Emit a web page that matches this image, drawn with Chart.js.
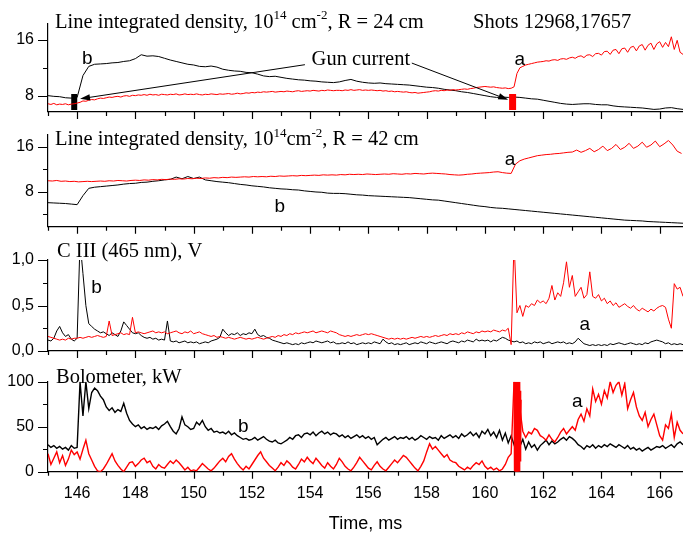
<!DOCTYPE html>
<html>
<head>
<meta charset="utf-8">
<script src="https://cdn.jsdelivr.net/npm/chart.js@4.4.1/dist/chart.umd.min.js"></script>
<style>
html, body { margin: 0; padding: 0; background: #fff; }
#wrap { position: relative; width: 683px; height: 538px; }
#wrap canvas { position: absolute; left: 0; top: 0; }
</style>
</head>
<body>
<div id="wrap">
  <canvas id="p1" width="683" height="538"></canvas>
  <canvas id="p2" width="683" height="538"></canvas>
  <canvas id="p3" width="683" height="538"></canvas>
  <canvas id="p4" width="683" height="538"></canvas>
</div>
<script>
// time axis, ms
const xMin = 145, xMax = 166.8;
const xMajor = [146, 148, 150, 152, 154, 156, 158, 160, 162, 164, 166];
const xTickLabels = ['146', '148', '150', '152', '154', '156', '158', '160', '162', '164', '166'];
const xMinor = [145, 147, 149, 151, 153, 155, 157, 159, 161, 163, 165];

// panel 1: line integrated density, R = 24 cm  (shot a = red, shot b = black)
const p1bStep = 0.2;
const p1b = [8.05, 7.95, 7.9, 7.75, 7.7, 7.8, 10.9, 12.2, 12.5, 12.55,
  12.6, 12.7, 12.75, 12.9, 13.0, 13.3, 13.85, 13.65, 13.7, 13.6,
  13.35, 13.1, 12.9, 12.7, 12.5, 12.4, 12.2, 12.15, 12.25, 12.1,
  11.8, 11.65, 11.55, 11.5, 11.35, 11.3, 11.1, 10.85, 10.75, 10.8,
  10.65, 10.5, 10.4, 10.3, 10.25, 10.15, 10.1, 10.0, 9.95, 9.9,
  10.0, 10.2, 10.35, 10.1, 9.95, 9.85, 9.8, 9.85, 9.75, 9.7,
  9.65, 9.6, 9.55, 9.45, 9.35, 9.25, 9.2, 9.1, 8.95, 8.85,
  8.75, 8.6, 8.5, 8.35, 8.2, 8.05, 7.9, 7.8, 7.85, 7.8,
  7.85, 7.8, 7.7, 7.6, 7.55, 7.4, 7.25, 7.1, 6.95, 6.85,
  6.8, 6.85, 6.9, 6.9, 6.8, 6.75, 6.75, 6.6, 6.5, 6.45,
  6.4, 6.35, 6.3, 6.2, 6.1, 6.15, 6.3, 6.35, 6.2, 6.1];
const p1aStep = 0.1;
const p1a = [6.9, 6.8, 6.95, 6.75, 6.85, 6.8, 6.9, 6.75, 6.85, 6.9,
  7.0, 7.1, 7.3, 7.25, 7.4, 7.5, 7.45, 7.6, 7.7, 7.65,
  7.75, 7.85, 7.8, 7.9, 7.95, 7.85, 8.0, 8.05, 7.95, 8.1,
  8.05, 8.15, 8.1, 8.2, 8.1, 8.25, 8.15, 8.2, 8.1, 8.25,
  8.2, 8.15, 8.25, 8.2, 8.3, 8.15, 8.2, 8.3, 8.2, 8.25,
  8.2, 8.3, 8.2, 8.15, 8.25, 8.2, 8.3, 8.25, 8.2, 8.3,
  8.25, 8.3, 8.35, 8.25, 8.3, 8.4, 8.3, 8.35, 8.45, 8.4,
  8.5, 8.45, 8.55, 8.5, 8.6, 8.55, 8.6, 8.65, 8.55, 8.6,
  8.65, 8.6, 8.7, 8.65, 8.6, 8.7, 8.75, 8.65, 8.7, 8.75,
  8.7, 8.8, 8.75, 8.7, 8.8, 8.75, 8.85, 8.8, 8.75, 8.8,
  8.8, 8.75, 8.85, 8.8, 8.9, 8.8, 8.85, 8.9, 8.8, 8.85,
  8.8, 8.85, 8.8, 8.75, 8.8, 8.7, 8.75, 8.65, 8.7, 8.6,
  8.65, 8.6, 8.55, 8.6, 8.5, 8.45, 8.5, 8.4, 8.45, 8.5,
  8.55, 8.6, 8.7, 8.75, 8.7, 8.8, 8.75, 8.85, 8.8, 8.9,
  8.85, 8.9, 8.95, 9.0, 8.95, 9.05, 9.1, 9.2, 9.25, 9.3,
  9.35, 9.3, 9.25, 9.3, 9.2, 9.15, 9.1, 9.15, 9.05, 9.1,
  9.3, 11.2, 12.0, 12.2, 12.4, 12.5, 12.6, 12.7, 12.8, 12.85,
  12.9, 13.0, 12.95, 13.1, 13.15, 13.05, 13.25, 13.3, 13.2, 13.4,
  13.5, 13.35, 13.6, 13.7, 13.45, 13.8, 13.85, 13.6, 14.0, 14.05,
  13.8, 14.3, 14.35, 13.9, 14.5, 14.6, 14.0, 14.7, 14.8, 14.2,
  14.9, 15.05, 14.4, 15.1, 15.3, 14.5, 15.2, 15.5, 14.6, 15.4,
  15.7, 14.9, 15.6, 15.0, 16.4, 14.6, 15.9, 14.2, 13.9];
// gun current markers (time, level span)
const gunB = { t: 145.9, lo: 6.0, hi: 8.3 };
const gunA = { t: 160.95, lo: 6.0, hi: 8.3 };

// panel 2: line integrated density, R = 42 cm
const p2bStep = 0.2;
const p2b = [6.05, 6.0, 5.95, 5.9, 5.8, 5.7, 7.3, 8.6, 8.8, 8.9,
  9.0, 9.1, 9.2, 9.35, 9.45, 9.5, 9.65, 9.7, 9.85, 9.95,
  10.1, 10.2, 10.6, 10.3, 10.7, 10.35, 10.6, 10.1, 9.95, 9.8,
  9.7, 9.6, 9.45, 9.3, 9.2, 9.05, 8.95, 8.85, 8.7, 8.6,
  8.5, 8.45, 8.35, 8.3, 8.15, 8.05, 7.95, 7.9, 7.75, 7.7,
  7.7, 7.65, 7.55, 7.45, 7.4, 7.3, 7.25, 7.2, 7.15, 7.1,
  7.05, 7.0, 6.95, 6.85, 6.75, 6.65, 6.55, 6.5, 6.35, 6.2,
  6.05, 5.9, 5.75, 5.6, 5.45, 5.35, 5.2, 5.1, 5.05, 4.95,
  4.85, 4.75, 4.65, 4.55, 4.45, 4.35, 4.25, 4.15, 4.05, 3.95,
  3.85, 3.75, 3.65, 3.55, 3.45, 3.35, 3.25, 3.15, 3.05, 2.95,
  2.9, 2.85, 2.8, 2.7, 2.65, 2.6, 2.55, 2.5, 2.45, 2.4];
const p2aStep = 0.15;
const p2a = [9.95, 9.9, 10.0, 9.85, 9.9, 9.8, 9.85, 9.75, 9.8, 9.85,
  9.8, 9.85, 9.9, 9.85, 9.95, 9.9, 10.0, 9.95, 9.9, 10.0,
  10.05, 10.0, 10.1, 10.05, 10.15, 10.1, 10.2, 10.15, 10.25, 10.2,
  10.3, 10.25, 10.35, 10.3, 10.4, 10.35, 10.45, 10.4, 10.5, 10.45,
  10.55, 10.5, 10.6, 10.55, 10.6, 10.65, 10.6, 10.7, 10.65, 10.7,
  10.65, 10.75, 10.7, 10.8, 10.75, 10.8, 10.85, 10.8, 10.9, 10.85,
  10.9, 10.95, 10.9, 11.0, 10.95, 11.0, 10.95, 11.05, 11.0, 11.1,
  11.05, 11.1, 11.05, 11.15, 11.1, 11.05, 11.1, 11.15, 11.1, 11.2,
  11.15, 11.1, 11.2, 11.15, 11.25, 11.2, 11.15, 11.25, 11.3, 11.25,
  11.2, 11.15, 11.05, 11.0, 10.95, 11.0, 11.1, 11.15, 11.25, 11.3,
  11.35, 11.4, 11.5, 11.55, 11.4, 11.3, 11.25, 12.9, 13.5, 13.8,
  14.0, 14.2, 14.4, 14.5, 14.6, 14.65, 14.75, 14.8, 14.9, 15.0,
  15.05, 15.4, 15.0, 15.3, 15.7, 15.1, 15.5, 16.1, 15.3, 15.7,
  16.4, 15.5, 15.9, 16.6, 15.7, 16.1, 16.8, 15.9, 16.3, 17.0,
  16.0, 16.5, 17.1, 16.3, 15.2, 14.8];

// panel 3: C III (465 nm), V
const p3Step = 0.1;
const p3b = [0.12, 0.11, 0.14, 0.22, 0.27, 0.2, 0.16, 0.18, 0.13, 0.11,
  0.14, 1.2, 0.85, 0.5, 0.3, 0.27, 0.24, 0.22, 0.2, 0.21,
  0.19, 0.17, 0.2, 0.18, 0.16, 0.22, 0.32, 0.28, 0.24, 0.2,
  0.19, 0.2, 0.17, 0.15, 0.14, 0.15, 0.13, 0.14, 0.12, 0.13,
  0.12, 0.33, 0.11, 0.1, 0.11, 0.09, 0.1, 0.11, 0.09, 0.1,
  0.09, 0.1, 0.08, 0.09, 0.1, 0.09, 0.11, 0.12, 0.13, 0.15,
  0.24, 0.2, 0.17, 0.19, 0.18, 0.2, 0.17, 0.19, 0.18, 0.2,
  0.19, 0.24, 0.18, 0.16, 0.17, 0.15, 0.14, 0.12, 0.11, 0.1,
  0.09, 0.08, 0.09, 0.08, 0.07, 0.08, 0.07, 0.09, 0.08, 0.09,
  0.1, 0.09, 0.11, 0.1, 0.09, 0.1, 0.11, 0.09, 0.1, 0.08,
  0.08, 0.09, 0.08, 0.1, 0.08, 0.09, 0.07, 0.08, 0.09, 0.08,
  0.09, 0.08, 0.1, 0.09, 0.08, 0.13, 0.1, 0.08, 0.09, 0.07,
  0.08, 0.07, 0.08, 0.09, 0.07, 0.08, 0.09, 0.08, 0.1, 0.09,
  0.08, 0.1, 0.09, 0.08, 0.09, 0.1, 0.09, 0.08, 0.1, 0.11,
  0.1, 0.09, 0.11, 0.1, 0.12, 0.11, 0.1, 0.13, 0.11, 0.12,
  0.11, 0.12, 0.1, 0.12, 0.11, 0.13, 0.15, 0.14, 0.12, 0.11,
  0.1, 0.11, 0.09, 0.1, 0.08, 0.09, 0.08, 0.1, 0.09, 0.1,
  0.08, 0.09, 0.1, 0.08, 0.09, 0.1, 0.09, 0.1, 0.08, 0.09,
  0.08, 0.1, 0.14, 0.11, 0.08, 0.07, 0.06, 0.07, 0.06, 0.07,
  0.06, 0.07, 0.06, 0.08, 0.07, 0.08, 0.09, 0.08, 0.07, 0.08,
  0.09, 0.08, 0.07, 0.08, 0.07, 0.09, 0.08, 0.1, 0.11, 0.12,
  0.11, 0.1, 0.08, 0.09, 0.07, 0.08, 0.07, 0.08, 0.07];
const p3a = [0.16, 0.15, 0.14, 0.13, 0.12, 0.13, 0.12, 0.14, 0.13, 0.14,
  0.14, 0.15, 0.14, 0.15, 0.16, 0.15, 0.16, 0.17, 0.16, 0.15,
  0.16, 0.33, 0.17, 0.18, 0.19, 0.2, 0.18, 0.19, 0.18, 0.37,
  0.2, 0.21, 0.2, 0.19, 0.2, 0.21, 0.22, 0.2, 0.21, 0.2,
  0.21, 0.19, 0.2, 0.21, 0.22, 0.2, 0.19, 0.21, 0.2, 0.22,
  0.19, 0.2, 0.21, 0.19, 0.18, 0.17, 0.16, 0.17, 0.15, 0.16,
  0.15, 0.14, 0.15, 0.14, 0.13, 0.14, 0.15, 0.14, 0.13, 0.14,
  0.13, 0.14, 0.15, 0.14, 0.13, 0.14, 0.15, 0.16, 0.15, 0.17,
  0.16, 0.18, 0.17, 0.19, 0.18, 0.2, 0.19, 0.2, 0.21, 0.2,
  0.21, 0.22, 0.2, 0.21, 0.22, 0.21, 0.2, 0.22, 0.21, 0.2,
  0.18, 0.17, 0.16, 0.17, 0.16, 0.17, 0.18, 0.17, 0.18, 0.19,
  0.18, 0.19, 0.18, 0.17, 0.16, 0.15, 0.14, 0.13, 0.14, 0.13,
  0.14, 0.13, 0.14, 0.13, 0.14, 0.15, 0.14, 0.15, 0.16, 0.15,
  0.16, 0.15, 0.16, 0.17, 0.16, 0.17, 0.18, 0.17, 0.19, 0.18,
  0.19, 0.18, 0.2, 0.19, 0.21, 0.2, 0.19, 0.21, 0.2, 0.22,
  0.21, 0.22, 0.21, 0.23, 0.22, 0.21, 0.23, 0.22, 0.25, 0.07,
  1.2, 0.42, 0.5, 0.38, 0.5, 0.48, 0.52, 0.5, 0.56, 0.53,
  0.55, 0.52, 0.58, 0.72, 0.56, 0.64, 0.6, 0.75, 0.98, 0.7,
  0.83, 0.6, 0.65, 0.7, 0.58, 0.62, 0.87, 0.6, 0.58, 0.62,
  0.55, 0.58, 0.52, 0.55, 0.5, 0.53, 0.48, 0.5, 0.52, 0.49,
  0.47, 0.5, 0.46, 0.44, 0.47, 0.45, 0.43, 0.46, 0.44, 0.47,
  0.49, 0.5, 0.48, 0.35, 0.25, 0.74, 0.68, 0.7, 0.6];

// panel 4: bolometer, kW
const p4Step = 0.1;
const p4b = [30, 27, 29, 26, 28, 25, 27, 24, 29, 26,
  27, 100, 62, 100, 70, 88, 93, 90, 84, 80,
  72, 68, 71, 66, 69, 67, 76, 65, 57, 53,
  50, 52, 48, 50, 47, 49, 48, 50, 47, 51,
  53, 56, 50, 45, 42, 48, 61, 52, 50, 47,
  48, 55, 52, 57, 50, 46, 48, 44, 45, 43,
  44, 42, 45, 41, 43, 40, 38, 36, 37, 35,
  36, 38, 35, 37, 39, 36, 34, 33, 35, 32,
  31, 33, 35, 38, 36, 40, 41, 38, 42, 43,
  41, 44, 40, 43, 45, 42, 44, 41, 43, 42,
  39, 41, 38, 40, 37, 39, 41, 38, 40, 37,
  39, 36, 38, 30, 33, 36, 38, 35, 37, 39,
  36, 38, 37, 39, 36, 38, 35, 37, 40, 38,
  36, 39, 37, 38, 35, 40, 37, 39, 41, 38,
  40, 37, 42, 39, 41, 44, 40, 43, 38, 45,
  42, 47, 40, 44, 38, 46, 35, 43, 32, 40,
  30, 38, 28, 36, 25, 33, 27, 30, 24, 29,
  32, 35, 30, 34, 31, 33, 36, 38, 35, 39,
  37, 34, 30, 28, 25, 29, 27, 30, 26, 29,
  27, 30, 28, 31, 29, 27, 30, 28, 26, 29,
  25, 27, 24, 26, 23, 25, 27, 24, 26, 28,
  27, 29, 26, 28, 30, 27, 31, 33, 30];
const p4a = [20, 8, 15, 22, 10, 18, 7, 14, 24, 19,
  22, 14, 25, 35, 20, 13, 6, 1, 0, 3,
  8, 14, 20, 12, 7, 3, 0, 5, 10, 11,
  6, 9, 13, 15, 10, 12, 6, 3, 8, 5,
  4, 8, 12, 9, 13, 10, 6, 2, 5, 1,
  2, 1, 5, 9, 6, 3, 1, 4, 8, 12,
  15, 11, 17, 20, 14, 9, 5, 2, 6, 3,
  8, 13, 18, 22, 15, 11, 7, 4, 1, 5,
  10, 7, 12, 9, 5, 3, 8, 14, 11, 16,
  12, 9, 15, 11, 7, 4, 10, 6, 3, 8,
  15, 11, 6, 3, 1, 5, 10, 16, 12, 8,
  4, 2, 7, 11, 6, 3, 1, 5, 9, 13,
  10, 14, 18, 16, 12, 8, 4, 1, 6, 12,
  22, 31, 25, 28, 24, 20, 16, 19, 13, 11,
  10, 6, 4, 2, 5, 3, 7, 10, 8, 12,
  6, 3, 5, 2, 4, 1, 3, 8, 16, 20,
  100, 0, 70, 45, 38, 44, 42, 48, 46, 40,
  38, 35, 41, 36, 33, 38, 44, 48, 42, 46,
  50, 46, 58, 64, 56, 70, 62, 92, 78, 86,
  75, 90, 82, 100, 88, 96, 100, 85, 98, 70,
  80, 88, 72, 62, 57, 66, 50, 58, 64, 52,
  40, 35, 52, 48, 64, 38, 55, 46, 42];
// fast burst on the red bolometer trace during the gun pulse
const p4aBurstStart = 161.0, p4aBurstStep = 0.011;
const p4aBurst = [100, 0, 100, 3, 100, 0, 98, 2, 100, 0, 100, 5, 100, 0, 100, 8, 95, 0, 100, 12, 90, 25, 80];

const RED = '#ff0000', BLACK = '#000000';
const SANS = "'Liberation Sans', Arial, sans-serif";
const SERIF = "'Liberation Serif', 'Times New Roman', serif";
const SERIF_SIZE = 20.5;

function pts(t0, dt, vals) {
  return vals.map((v, i) => ({ x: +(t0 + i * dt).toFixed(3), y: v }));
}
function trace(data, color, width) {
  return { data: data, borderColor: color, borderWidth: width || 1, pointRadius: 0, tension: 0, fill: false, borderCapStyle: 'butt' };
}

function drawRich(ctx, x, y, parts, size, family) {
  let cx = x;
  ctx.textAlign = 'left';
  ctx.textBaseline = 'alphabetic';
  for (const p of parts) {
    const sup = typeof p !== 'string';
    const s = sup ? p.sup : p;
    ctx.font = (sup ? Math.round(size * 0.62) : size) + 'px ' + family;
    ctx.fillText(s, cx, sup ? y - size * 0.4 : y);
    cx += ctx.measureText(s).width;
  }
}

function arrowLine(ctx, x1, y1, x2, y2) {
  const a = Math.atan2(y2 - y1, x2 - x1), L = 10, W = 3.2;
  ctx.beginPath();
  ctx.moveTo(x1, y1);
  ctx.lineTo(x2 - Math.cos(a) * L * 0.8, y2 - Math.sin(a) * L * 0.8);
  ctx.stroke();
  ctx.beginPath();
  ctx.moveTo(x2, y2);
  ctx.lineTo(x2 - Math.cos(a) * L - Math.sin(a) * W, y2 - Math.sin(a) * L + Math.cos(a) * W);
  ctx.lineTo(x2 - Math.cos(a) * L + Math.sin(a) * W, y2 - Math.sin(a) * L - Math.cos(a) * W);
  ctx.closePath();
  ctx.fill();
}

// tick marks (major and minor), x labels and text annotations, placed through the chart scales
function decor(cfg) {
  return {
    id: 'decor',
    afterDraw(chart) {
      const ctx = chart.ctx, xs = chart.scales.x, ys = chart.scales.y, ca = chart.chartArea;
      ctx.save();
      ctx.strokeStyle = BLACK;
      ctx.fillStyle = BLACK;
      ctx.lineWidth = 1.2;
      ctx.beginPath();
      xMajor.forEach(v => { const px = Math.round(xs.getPixelForValue(v)) + 0.5; ctx.moveTo(px, ca.bottom); ctx.lineTo(px, ca.bottom + 7); });
      xMinor.forEach(v => { const px = Math.round(xs.getPixelForValue(v)) + 0.5; ctx.moveTo(px, ca.bottom); ctx.lineTo(px, ca.bottom + 4); });
      cfg.yTicks.forEach(v => { const py = Math.round(ys.getPixelForValue(v)) + 0.5; ctx.moveTo(ca.left, py); ctx.lineTo(ca.left - 10, py); });
      cfg.yMinor.forEach(v => { const py = Math.round(ys.getPixelForValue(v)) + 0.5; ctx.moveTo(ca.left, py); ctx.lineTo(ca.left - 5, py); });
      ctx.stroke();

      if (cfg.xLabels) {
        ctx.font = '16px ' + SANS;
        ctx.textAlign = 'center';
        ctx.textBaseline = 'middle';
        xMajor.forEach((v, i) => ctx.fillText(xTickLabels[i], xs.getPixelForValue(v), ca.bottom + 22));
      }

      (cfg.titles || []).forEach(t => drawRich(ctx, t.x, t.y, t.parts, SERIF_SIZE, SERIF));

      ctx.font = '19px ' + SANS;
      ctx.textAlign = 'center';
      ctx.textBaseline = 'middle';
      (cfg.marks || []).forEach(m => ctx.fillText(m.text, xs.getPixelForValue(m.t), ys.getPixelForValue(m.v)));

      ctx.lineWidth = 1;
      (cfg.arrows || []).forEach(a => arrowLine(ctx,
        xs.getPixelForValue(a.t1), ys.getPixelForValue(a.v1),
        xs.getPixelForValue(a.t2), ys.getPixelForValue(a.v2)));
      (cfg.serifNotes || []).forEach(n => {
        ctx.font = SERIF_SIZE + 'px ' + SERIF;
        ctx.textAlign = 'left';
        ctx.textBaseline = 'alphabetic';
        ctx.fillText(n.text, xs.getPixelForValue(n.t), ys.getPixelForValue(n.v));
      });
      if (cfg.bottomTitle) {
        ctx.font = '18px ' + SANS;
        ctx.textAlign = 'center';
        ctx.textBaseline = 'alphabetic';
        ctx.fillText(cfg.bottomTitle, (ca.left + ca.right) / 2, ca.bottom + 57);
      }
      ctx.restore();
    }
  };
}

function panel(id, cfg) {
  return new Chart(document.getElementById(id), {
    type: 'line',
    data: { datasets: cfg.datasets },
    options: {
      responsive: false,
      animation: false,
      events: [],
      layout: { padding: { left: 0, right: 0, top: cfg.top, bottom: 538 - cfg.bottom } },
      plugins: { legend: { display: false }, tooltip: { enabled: false } },
      scales: {
        x: {
          type: 'linear', min: xMin, max: xMax,
          grid: { display: false, drawTicks: false },
          border: { display: true, color: BLACK, width: 1.2 },
          afterFit: s => { s.height = 0; },
          ticks: { display: false }
        },
        y: {
          type: 'linear', min: cfg.min, max: cfg.max,
          grid: { display: false, drawTicks: false },
          border: { display: true, color: BLACK, width: 1.2 },
          afterFit: s => { s.width = 48; },
          afterBuildTicks: s => { s.ticks = cfg.yTicks.map(v => ({ value: v })); },
          ticks: { padding: 14, color: BLACK, font: { family: SANS, size: 16 },
                   callback: (v, i) => cfg.yLabels[i] }
        }
      }
    },
    plugins: [decor(cfg)]
  });
}

panel('p1', {
  top: 18, bottom: 112, min: 5.73, max: 18.27,
  yTicks: [8, 16], yLabels: ['8', '16'], yMinor: [12],
  datasets: [
    trace([{ x: gunA.t, y: gunA.lo }, { x: gunA.t, y: gunA.hi }], RED, 7),
    trace(pts(xMin, p1aStep, p1a), RED),
    trace([{ x: gunB.t, y: gunB.lo }, { x: gunB.t, y: gunB.hi }], BLACK, 6),
    trace(pts(xMin, p1bStep, p1b), BLACK)
  ],
  titles: [
    { x: 55, y: 27.5, parts: ['Line integrated density, 10', { sup: '14' }, ' cm', { sup: '-2' }, ', R = 24 cm'] },
    { x: 473, y: 27.5, parts: ['Shots 12968,17657'] }
  ],
  marks: [{ text: 'b', t: 146.35, v: 13.3 }, { text: 'a', t: 161.2, v: 13.1 }],
  serifNotes: [{ text: 'Gun current', t: 154.05, v: 12.4 }],
  arrows: [
    { t1: 153.82, v1: 12.44, t2: 146.1, v2: 7.6 },
    { t1: 157.49, v1: 12.67, t2: 160.8, v2: 7.47 }
  ]
});

panel('p2', {
  top: 135, bottom: 226.7, min: 1.78, max: 18.08,
  yTicks: [8, 16], yLabels: ['8', '16'], yMinor: [4, 12],
  datasets: [
    trace(pts(xMin, p2aStep, p2a), RED),
    trace(pts(xMin, p2bStep, p2b), BLACK)
  ],
  titles: [
    { x: 55, y: 145, parts: ['Line integrated density, 10', { sup: '14' }, 'cm', { sup: '-2' }, ', R = 42 cm'] }
  ],
  marks: [{ text: 'a', t: 160.86, v: 13.6 }, { text: 'b', t: 152.96, v: 5.33 }]
});

panel('p3', {
  top: 260, bottom: 351, min: 0, max: 1,
  yTicks: [0, 0.5, 1], yLabels: ['0,0', '0,5', '1,0'], yMinor: [0.25, 0.75],
  datasets: [
    trace(pts(xMin, p3Step, p3a), RED),
    trace(pts(xMin, p3Step, p3b), BLACK)
  ],
  titles: [{ x: 57, y: 256.7, parts: ['C III (465 nm), V'] }],
  marks: [{ text: 'b', t: 146.67, v: 0.69 }, { text: 'a', t: 163.43, v: 0.29 }]
});

panel('p4', {
  top: 381.7, bottom: 471.7, min: 0, max: 100, xLabels: true,
  yTicks: [0, 50, 100], yLabels: ['0', '50', '100'], yMinor: [25, 75],
  datasets: [
    trace(pts(p4aBurstStart, p4aBurstStep, p4aBurst), RED, 1.4),
    trace(pts(xMin, p4Step, p4a), RED, 1.4),
    trace(pts(xMin, p4Step, p4b), BLACK, 1.4)
  ],
  titles: [{ x: 56, y: 383.3, parts: ['Bolometer, kW'] }],
  marks: [{ text: 'b', t: 151.7, v: 50 }, { text: 'a', t: 163.17, v: 77.9 }],
  bottomTitle: 'Time, ms'
});
</script>
</body>
</html>
